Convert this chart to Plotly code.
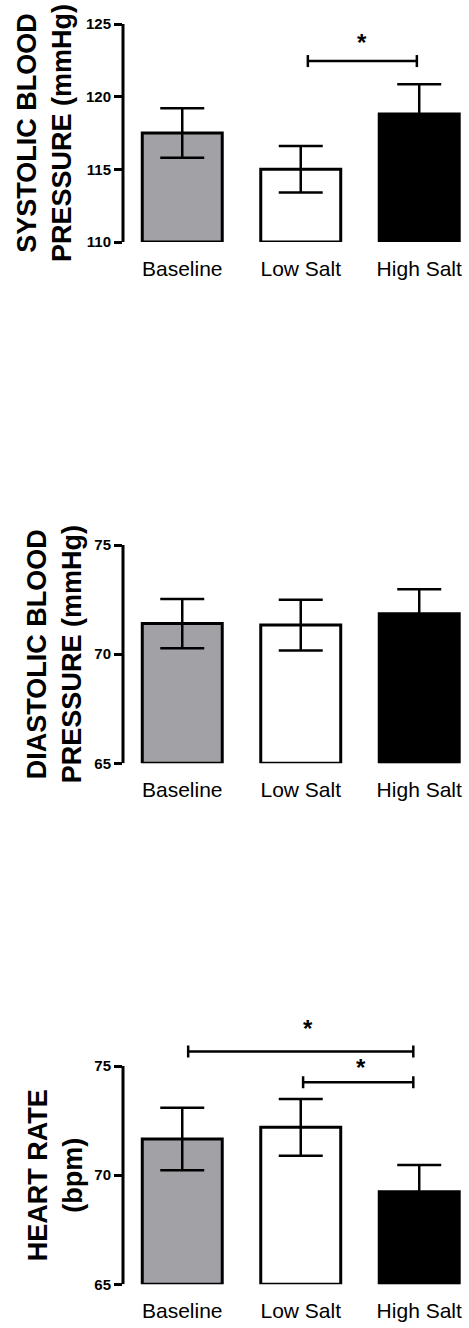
import plotly.graph_objects as go

categories = ["Baseline", "Low Salt", "High Salt"]
bar_colors = ["#a2a2a6", "#ffffff", "#000000"]

# Systolic
sbp_mean = [117.5, 115.0, 118.8]
sbp_err = [1.7, 1.6, 2.05]
sbp_ticks = [110, 115, 120, 125]
sbp_brackets = [(1.06, 1.98, 122.45)]
sbp_stars = [(1.52, 123.75)]

# Diastolic
dbp_mean = [71.4, 71.33, 71.85]
dbp_err = [1.13, 1.16, 1.12]
dbp_ticks = [65, 70, 75]
dbp_brackets = []
dbp_stars = []

# Heart rate
hr_mean = [71.66, 72.19, 69.24]
hr_err = [1.43, 1.3, 1.23]
hr_ticks = [65, 70, 75]
hr_brackets = [(0.05, 1.95, 75.66), (1.02, 1.95, 74.26)]
hr_stars = [(1.06, 76.7), (1.51, 74.95)]

titles = ["SYSTOLIC BLOOD<br>PRESSURE (mmHg)",
          "DIASTOLIC BLOOD<br>PRESSURE (mmHg)",
          "HEART RATE<br>(bpm)"]

W, H = 469, 1328
def fy(px):
    return 1 - px / H

panels = [
    dict(mean=sbp_mean, err=sbp_err, ticks=sbp_ticks, br=sbp_brackets, st=sbp_stars,
         rng=[110, 125], top_px=24, bot_px=242, title=titles[0], tx=44),
    dict(mean=dbp_mean, err=dbp_err, ticks=dbp_ticks, br=dbp_brackets, st=dbp_stars,
         rng=[65, 75], top_px=545, bot_px=763.3, title=titles[1], tx=54),
    dict(mean=hr_mean, err=hr_err, ticks=hr_ticks, br=hr_brackets, st=hr_stars,
         rng=[65, 77], top_px=1066, bot_px=1284.3, title=titles[2], tx=55, axis_top=75),
]

FONT = "Liberation Sans, Arial, sans-serif"
fig = go.Figure()
layout = dict(
    template="none",
    width=W, height=H, margin=dict(l=0, r=0, t=0, b=0, autoexpand=False),
    paper_bgcolor="white", plot_bgcolor="white", showlegend=False,
    font=dict(family=FONT, color="black"),
)
shapes = []
annotations = []
x_left_px = 123
for i, p in enumerate(panels):
    n = i + 1
    xa = "x" if n == 1 else f"x{n}"
    ya = "y" if n == 1 else f"y{n}"
    axis_top = p.get("axis_top", p["rng"][1])
    ppu = (p["bot_px"] - p["top_px"]) / (axis_top - p["rng"][0])
    dom_top_px = p["bot_px"] - (p["rng"][1] - p["rng"][0]) * ppu
    fig.add_trace(go.Bar(
        x=[0, 1, 2], y=[m - p["rng"][0] for m in p["mean"]], base=p["rng"][0],
        width=0.675, marker=dict(color=bar_colors, line=dict(color="black", width=3)),
        error_y=dict(type="data", array=p["err"], color="black", thickness=2.5, width=22),
        xaxis=xa, yaxis=ya, hoverinfo="skip",
    ))
    layout[f"xaxis{n if n > 1 else ''}"] = dict(
        domain=[x_left_px / W, 1], range=[-0.5, 2.42], anchor=ya,
        tickmode="array", tickvals=[0, 1, 2], ticktext=categories,
        showline=False, showgrid=False, zeroline=False, ticks="",
        tickfont=dict(size=21, family=FONT),
        ticklabelstandoff=12, fixedrange=True, automargin=False,
    )
    layout[f"yaxis{n if n > 1 else ''}"] = dict(
        domain=[fy(p["bot_px"]), fy(dom_top_px)], range=p["rng"], anchor=xa,
        tickmode="array", tickvals=p["ticks"], ticktext=[str(t) for t in p["ticks"]],
        showline=False, showgrid=False, zeroline=False,
        ticks="outside", ticklen=8, tickwidth=3, tickcolor="black",
        tickfont=dict(size=15, family=FONT, weight="bold"),
        fixedrange=True, automargin=False,
    )
    shapes.append(dict(type="line", xref=f"{xa} domain", yref=ya, x0=0, x1=0,
                       y0=p["rng"][0], y1=axis_top, line=dict(color="black", width=3)))
    for (x0, x1, yb) in p["br"]:
        shapes.append(dict(type="line", xref=xa, yref=ya, x0=x0, x1=x1, y0=yb, y1=yb,
                           line=dict(color="black", width=2.5)))
        for xe in (x0, x1):
            shapes.append(dict(type="line", xref=xa, yref=ya, x0=xe, x1=xe,
                               ysizemode="pixel", yanchor=yb, y0=-6, y1=6,
                               line=dict(color="black", width=2.5)))
    for (sx, sy) in p["st"]:
        annotations.append(dict(xref=xa, yref=ya, x=sx, y=sy, text="<b>*</b>",
                                showarrow=False, font=dict(size=24), yanchor="middle",
                                xanchor="center"))
    annotations.append(dict(xref="paper", yref="paper", x=p["tx"] / W,
                            y=fy((p["top_px"] + p["bot_px"]) / 2), text=p["title"],
                            textangle=-90, showarrow=False, xanchor="center", yanchor="middle",
                            font=dict(size=27, family=FONT, weight="bold")))

layout["shapes"] = shapes
layout["annotations"] = annotations
fig.update_layout(**layout)
fig.write_html("out.html", config={"displayModeBar": False},
               post_script="document.body.style.margin='0';document.body.style.overflow='hidden';")
